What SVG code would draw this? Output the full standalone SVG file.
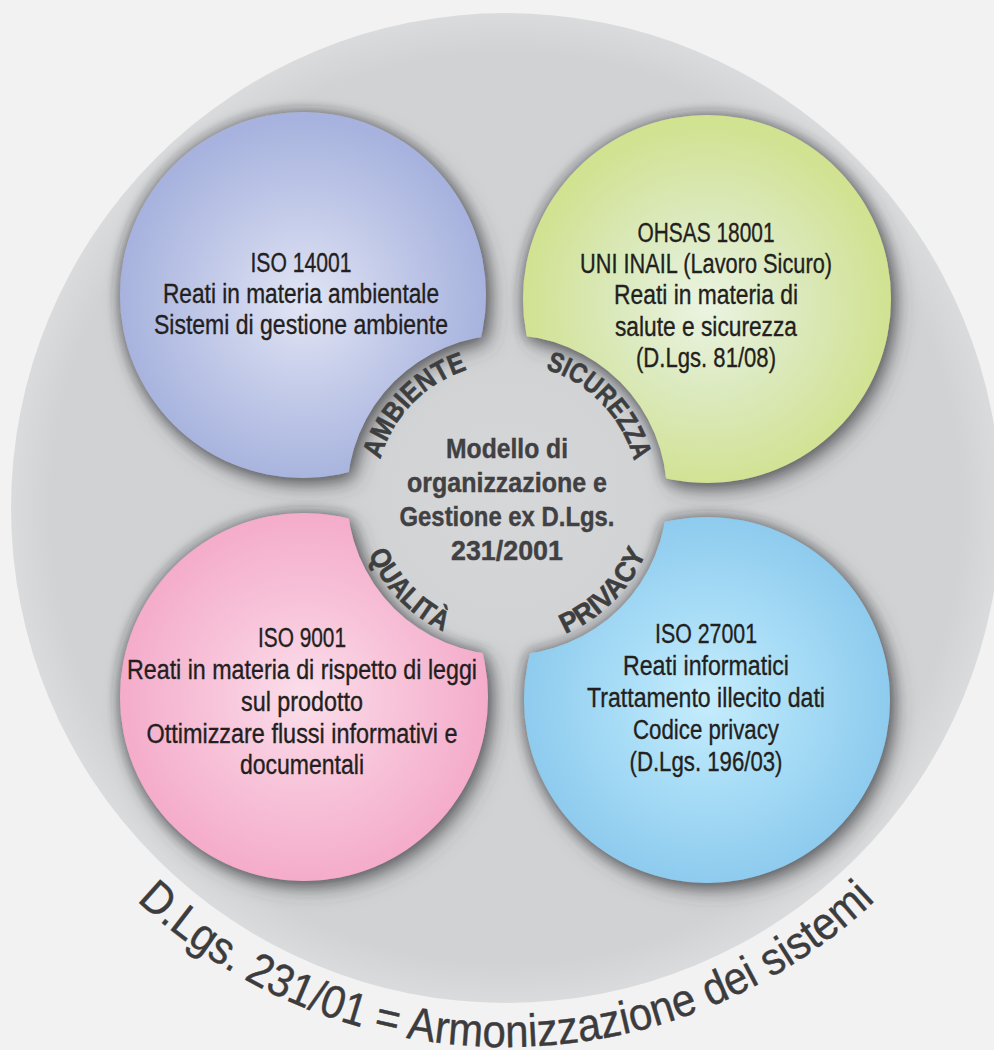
<svg xmlns="http://www.w3.org/2000/svg" width="994" height="1050" viewBox="0 0 994 1050">
<defs>
<style>
.t{font-family:"Liberation Sans",Arial,sans-serif;font-size:27px;fill:#231f20;stroke:#231f20;stroke-width:0.35px;text-anchor:middle}
.c{font-family:"Liberation Sans",Arial,sans-serif;font-weight:bold;font-size:28px;fill:#414042;stroke:#414042;stroke-width:0.4px;text-anchor:middle}
.lab{font-family:"Liberation Sans",Arial,sans-serif;font-weight:bold;font-size:28px;fill:#3d3e40;stroke:#3d3e40;stroke-width:0.6px;text-anchor:middle}
.bot{font-family:"Liberation Sans",Arial,sans-serif;font-size:46px;fill:#3c3c3e;stroke:#3c3c3e;stroke-width:0.4px;text-anchor:middle}
</style>
<radialGradient id="gBig" cx="0.5" cy="0.5" r="0.5">
<stop offset="0" stop-color="#d0d1d3"/><stop offset="0.92" stop-color="#d1d2d4"/><stop offset="1" stop-color="#dadbdc"/>
</radialGradient>
<radialGradient id="gDisk" cx="0.5" cy="0.5" r="0.5">
<stop offset="0" stop-color="#d6d7d9"/><stop offset="1" stop-color="#d1d2d4"/>
</radialGradient>
<radialGradient id="gBlue" cx="0.5" cy="0.52" r="0.5">
<stop offset="0" stop-color="#e2e5f4"/><stop offset="0.45" stop-color="#c6cdea"/><stop offset="1" stop-color="#a7b3de"/>
</radialGradient>
<radialGradient id="gGreen" cx="0.5" cy="0.52" r="0.5">
<stop offset="0" stop-color="#ebf4e2"/><stop offset="0.45" stop-color="#dceac0"/><stop offset="1" stop-color="#d1e291"/>
</radialGradient>
<radialGradient id="gCyan" cx="0.5" cy="0.5" r="0.5">
<stop offset="0" stop-color="#c6edfc"/><stop offset="0.45" stop-color="#aadef7"/><stop offset="1" stop-color="#8ecbee"/>
</radialGradient>
<radialGradient id="gPink" cx="0.5" cy="0.5" r="0.5">
<stop offset="0" stop-color="#fbdfeb"/><stop offset="0.45" stop-color="#f8c6db"/><stop offset="1" stop-color="#f4acca"/>
</radialGradient>
<filter id="sh" x="-25%" y="-25%" width="155%" height="155%">
<feGaussianBlur in="SourceAlpha" stdDeviation="7" result="b1"/>
<feFlood flood-color="#3e3f42" flood-opacity="0.7"/>
<feComposite in2="b1" operator="in" result="s1"/>
<feGaussianBlur in="SourceAlpha" stdDeviation="10"/>
<feOffset dx="6" dy="8" result="b2"/>
<feFlood flood-color="#3e3f42" flood-opacity="0.6"/>
<feComposite in2="b2" operator="in" result="s2"/>
<feMerge><feMergeNode in="s1"/><feMergeNode in="s2"/><feMergeNode in="SourceGraphic"/></feMerge>
</filter>
<mask id="notch" maskUnits="userSpaceOnUse" x="0" y="0" width="994" height="1050">
<rect width="994" height="1050" fill="#fff"/>
<circle cx="507" cy="495" r="160" fill="#000"/>
</mask>
<path id="pAmb" d="M375.82 485.83 A131.5 131.5 0 0 1 493.25 364.22"/>
<path id="pSic" d="M520.75 364.22 A131.5 131.5 0 0 1 638.18 485.83"/>
<path id="pQua" d="M356.87 505.5 A150.5 150.5 0 0 0 491.27 644.68"/>
<path id="pPri" d="M520.12 644.93 A150.5 150.5 0 0 0 656.93 508.12"/>
<path id="pBot" d="M93.1 854.5 A539 539 0 0 0 918.9 854.5"/>
</defs>
<rect width="994" height="1050" fill="#f2f2f2"/>
<g id="background">
<circle cx="506" cy="508" r="495" fill="url(#gBig)"/>
</g>
<g id="node-center">
<circle cx="507" cy="495" r="160" fill="url(#gDisk)"/>
</g>
<g id="node-ambiente">
<g filter="url(#sh)"><circle cx="303" cy="295" r="183" fill="url(#gBlue)" mask="url(#notch)"/></g>
<text class="t" x="301" y="272" textLength="101" lengthAdjust="spacingAndGlyphs">ISO 14001</text>
<text class="t" x="301" y="303" textLength="276" lengthAdjust="spacingAndGlyphs">Reati in materia ambientale</text>
<text class="t" x="301" y="334" textLength="294" lengthAdjust="spacingAndGlyphs">Sistemi di gestione ambiente</text>
</g>
<g id="node-sicurezza">
<g filter="url(#sh)"><circle cx="707" cy="299" r="184" fill="url(#gGreen)" mask="url(#notch)"/></g>
<text class="t" x="706" y="242" textLength="137" lengthAdjust="spacingAndGlyphs">OHSAS 18001</text>
<text class="t" x="706" y="273" textLength="252" lengthAdjust="spacingAndGlyphs">UNI INAIL (Lavoro Sicuro)</text>
<text class="t" x="706" y="304" textLength="184" lengthAdjust="spacingAndGlyphs">Reati in materia di</text>
<text class="t" x="706" y="336" textLength="182" lengthAdjust="spacingAndGlyphs">salute e sicurezza</text>
<text class="t" x="706" y="367" textLength="140" lengthAdjust="spacingAndGlyphs">(D.Lgs. 81/08)</text>
</g>
<g id="node-qualita">
<g filter="url(#sh)"><circle cx="304" cy="697" r="184" fill="url(#gPink)" mask="url(#notch)"/></g>
<text class="t" x="302" y="647" textLength="88" lengthAdjust="spacingAndGlyphs">ISO 9001</text>
<text class="t" x="302" y="679" textLength="350" lengthAdjust="spacingAndGlyphs">Reati in materia di rispetto di leggi</text>
<text class="t" x="302" y="711" textLength="122" lengthAdjust="spacingAndGlyphs">sul prodotto</text>
<text class="t" x="302" y="743" textLength="311" lengthAdjust="spacingAndGlyphs">Ottimizzare flussi informativi e</text>
<text class="t" x="302" y="774" textLength="124" lengthAdjust="spacingAndGlyphs">documentali</text>
</g>
<g id="node-privacy">
<g filter="url(#sh)"><circle cx="707" cy="700" r="183" fill="url(#gCyan)" mask="url(#notch)"/></g>
<text class="t" x="706" y="643" textLength="102" lengthAdjust="spacingAndGlyphs">ISO 27001</text>
<text class="t" x="706" y="675" textLength="166" lengthAdjust="spacingAndGlyphs">Reati informatici</text>
<text class="t" x="706" y="707" textLength="238" lengthAdjust="spacingAndGlyphs">Trattamento illecito dati</text>
<text class="t" x="706" y="739" textLength="146" lengthAdjust="spacingAndGlyphs">Codice privacy</text>
<text class="t" x="706" y="771" textLength="153" lengthAdjust="spacingAndGlyphs">(D.Lgs. 196/03)</text>
</g>
<g id="node-center-text">
<text class="c" x="507" y="458" textLength="122" lengthAdjust="spacingAndGlyphs">Modello di</text>
<text class="c" x="507" y="492" textLength="200" lengthAdjust="spacingAndGlyphs">organizzazione e</text>
<text class="c" x="507" y="526" textLength="215" lengthAdjust="spacingAndGlyphs">Gestione ex D.Lgs.</text>
<text class="c" x="507" y="560" textLength="112" lengthAdjust="spacingAndGlyphs">231/2001</text>
</g>
<g id="labels">
<text class="lab"><textPath href="#pAmb" startOffset="50%" textLength="130" lengthAdjust="spacingAndGlyphs">AMBIENTE</textPath></text>
<text class="lab"><textPath href="#pSic" startOffset="50%" textLength="133" lengthAdjust="spacingAndGlyphs">SICUREZZA</textPath></text>
<text class="lab"><textPath href="#pQua" startOffset="50%" textLength="110" lengthAdjust="spacingAndGlyphs">QUALITÀ</textPath></text>
<text class="lab"><textPath href="#pPri" startOffset="50%" textLength="117" lengthAdjust="spacingAndGlyphs">PRIVACY</textPath></text>
</g>
<g id="title">
<text class="bot"><textPath href="#pBot" startOffset="50%" textLength="814" lengthAdjust="spacingAndGlyphs">D.Lgs. 231/01 = Armonizzazione dei sistemi</textPath></text>
</g>
</svg>
